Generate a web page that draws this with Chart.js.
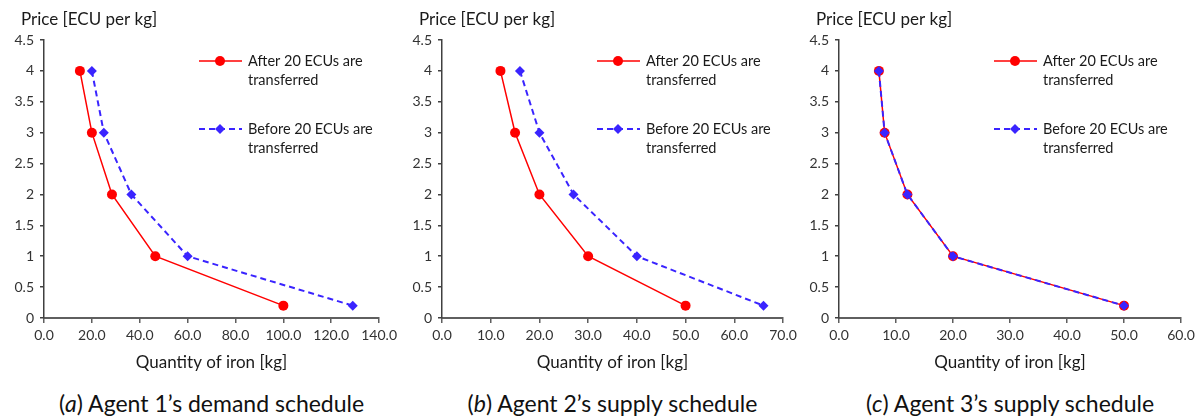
<!DOCTYPE html>
<html>
<head>
<meta charset="utf-8">
<script src="https://cdn.jsdelivr.net/npm/chart.js@4.4.1/dist/chart.umd.min.js"></script>
<style>
  body { margin: 0; background: #fff; font-family: Lato, "Open Sans", sans-serif; }
  #wrap { position: relative; width: 1203px; height: 419px; overflow: hidden; }
  .panel { position: absolute; top: 0; width: 401px; height: 419px; }
  .panel canvas { position: absolute; left: 0; top: 0; }
  .caption { position: absolute; top: 389px; font-size: 23px; line-height: 28px; text-align: center; color: #111; white-space: nowrap; }
</style>
</head>
<body>
<div id="wrap">
  <div class="panel" style="left:0px"><canvas id="chartA" width="401" height="380"></canvas>
    <div class="caption" id="capA">(<i>a</i>) Agent 1’s demand schedule</div></div>
  <div class="panel" style="left:401px"><canvas id="chartB" width="401" height="380"></canvas>
    <div class="caption" id="capB">(<i>b</i>) Agent 2’s supply schedule</div></div>
  <div class="panel" style="left:802px"><canvas id="chartC" width="401" height="380"></canvas>
    <div class="caption" id="capC">(<i>c</i>) Agent 3’s supply schedule</div></div>
</div>
<script>
// price levels (y) shared by every schedule
const prices = [4, 3, 2, 1, 0.2];

// quantities of iron [kg] at each price
const agent1After  = [15, 20, 28.4, 46.5, 100];
const agent1Before = [20, 25, 36.5, 60, 129];
const agent2After  = [12, 15, 20, 30, 50];
const agent2Before = [16, 20, 27, 40, 66];
const agent3After  = [7, 8, 12, 20, 50];
const agent3Before = [7, 8, 12, 20, 50];

const xMaxes = [140, 70, 60];
const xSteps = [20, 10, 10];
const yTicks = [0, 0.5, 1, 1.5, 2, 2.5, 3, 3.5, 4, 4.5];

const seriesLabels = ['After 20 ECUs are transferred', 'Before 20 ECUs are transferred'];
const legendLines = [['After 20 ECUs are', 'transferred'], ['Before 20 ECUs are', 'transferred']];
const yTitle = 'Price [ECU per kg]';
const xTitle = 'Quantity of iron [kg]';

const RED = '#ff0000';
const BLUE = '#3a24ff';
const FONT = 'Lato, "Open Sans", sans-serif';

const toPoints = (qs) => qs.map((q, i) => ({ x: q, y: prices[i] }));

// draws the y title and the legend inside the plot
const extras = {
    id: 'extras',
    afterDraw(chart) {
        const ctx = chart.ctx;
        const area = chart.chartArea;
        ctx.save();
        ctx.fillStyle = '#1a1a1a';
        ctx.font = '17px ' + FONT;
        ctx.textBaseline = 'middle';
        ctx.textAlign = 'left';
        ctx.fillText(yTitle, area.left - 23, 20);

        chart.data.datasets.forEach((ds, i) => {
            const lx = area.left + 155;
            const ly = area.top + 21 + i * 68;
            ctx.save();
            ctx.strokeStyle = ds.borderColor;
            ctx.lineWidth = ds.borderWidth;
            ctx.setLineDash(ds.borderDash || []);
            ctx.beginPath();
            ctx.moveTo(lx, ly);
            ctx.lineTo(lx + 43, ly);
            ctx.stroke();
            ctx.restore();
            ctx.fillStyle = ds.pointBackgroundColor;
            ctx.strokeStyle = ds.pointBorderColor;
            Chart.helpers.drawPoint(ctx, { pointStyle: ds.pointStyle, radius: ds.pointRadius, borderWidth: 0, rotation: 0 }, lx + 21, ly);
            ctx.fillStyle = '#1a1a1a';
            ctx.font = '14.5px ' + FONT;
            legendLines[i].forEach((t, k) => ctx.fillText(t, lx + 49, ly + k * 19));
        });
        ctx.restore();
    }
};

function makeChart(id, capId, after, before, xMax, xStep, leftW, rightPad) {
    const chart = new Chart(document.getElementById(id), {
        type: 'scatter',
        data: {
            datasets: [{
                label: seriesLabels[0],
                data: toPoints(after),
                showLine: true,
                borderColor: RED,
                borderWidth: 1.5,
                pointStyle: 'circle',
                pointRadius: 5,
                pointBackgroundColor: RED,
                pointBorderColor: RED,
                pointBorderWidth: 0,
                order: 2
            }, {
                label: seriesLabels[1],
                data: toPoints(before),
                showLine: true,
                borderColor: BLUE,
                borderWidth: 2,
                borderDash: [6, 4],
                pointStyle: 'rectRot',
                pointRadius: 5,
                pointBackgroundColor: BLUE,
                pointBorderColor: BLUE,
                pointBorderWidth: 0,
                order: 1
            }]
        },
        options: {
            responsive: false,
            animation: false,
            layout: { padding: { top: 40, right: rightPad, left: 0, bottom: 0 } },
            plugins: { legend: { display: false }, tooltip: { enabled: false } },
            scales: {
                x: {
                    type: 'linear',
                    min: 0, max: xMax,
                    afterFit: (s) => { s.height = 62; },
                    ticks: { stepSize: xStep, padding: 4, color: '#333', font: { family: FONT, size: 14 },
                             callback: (v) => v.toFixed(1) },
                    grid: { drawOnChartArea: false, drawTicks: true, tickLength: 5, color: '#5f5f5f', lineWidth: 1.5 },
                    border: { display: true, color: '#5f5f5f', width: 2 },
                    title: { display: true, text: xTitle, color: '#1a1a1a', font: { family: FONT, size: 17 }, padding: { top: 0, bottom: 7 } }
                },
                y: {
                    type: 'linear',
                    min: 0, max: 4.5,
                    afterFit: (s) => { s.width = leftW; },
                    afterBuildTicks: (s) => { s.ticks = yTicks.map(v => ({ value: v })); },
                    ticks: { padding: 6, color: '#333', font: { family: FONT, size: 14 }, callback: (v) => String(v) },
                    grid: { drawOnChartArea: false, drawTicks: true, tickLength: 4, color: '#404040', lineWidth: 1.5 },
                    border: { display: true, color: '#404040', width: 1.5 }
                }
            }
        },
        plugins: [extras]
    });
    const a = chart.chartArea;
    const cap = document.getElementById(capId);
    cap.style.left = a.left + 'px';
    cap.style.width = (a.right - a.left) + 'px';
    return chart;
}

makeChart('chartA', 'capA', agent1After, agent1Before, xMaxes[0], xSteps[0], 44, 18);
makeChart('chartB', 'capB', agent2After, agent2Before, xMaxes[1], xSteps[1], 41, 19);
makeChart('chartC', 'capC', agent3After, agent3Before, xMaxes[2], xSteps[2], 37, 22);
</script>
</body>
</html>
